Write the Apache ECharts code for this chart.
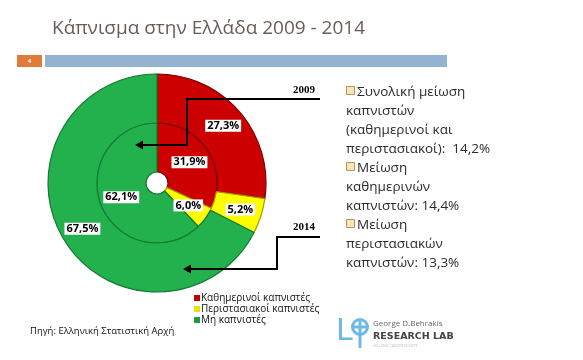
<!DOCTYPE html>
<html><head><meta charset="utf-8">
<script src="https://cdn.jsdelivr.net/npm/echarts@6/dist/echarts.min.js"></script>
<style>html,body{margin:0;padding:0;background:#fff}#c{width:583px;height:360px}</style>
</head><body><div id="c"></div>
<script>
const categories = ['Καθημερινοί καπνιστές', 'Περιστασιακοί καπνιστές', 'Μη καπνιστές'];
const values2009 = [31.9, 6.0, 62.1];
const values2014 = [27.3, 5.2, 67.5];
const years = ['2009', '2014'];
const noteLines = [
  ['Συνολική μείωση', 'καπνιστών', '(καθημερινοί και', 'περιστασιακοί):  14,2%'],
  ['Μείωση', 'καθημερινών', 'καπνιστών: 14,4%'],
  ['Μείωση', 'περιστασιακών', 'καπνιστών: 13,3%']
];
const colors = ['#CC0000', '#FFFF00', '#22B14C'];
const borders = ['#7a0000', '#a89a00', '#137a33'];
const legendColors = ['#C00000', '#E6E600', '#1E9A48'];
const fmt = v => v.toFixed(1).replace('.', ',') + '%';

const chart = echarts.init(document.getElementById('c'));
const mk = vals => vals.map((v, i) => ({ name: categories[i], value: v, itemStyle: { color: colors[i], borderColor: borders[i], borderWidth: 1.2 } }));
const label = {
  show: true, position: 'inside', formatter: p => fmt(p.value),
  fontFamily: 'Open Sans', fontWeight: 'bold', fontSize: 11, color: '#000',
  backgroundColor: '#fff', padding: [1, 2, 0, 2]
};

const graphics = [];
let y = 92;
noteLines.forEach(group => {
  group.forEach((ln, i) => {
    if (i === 0) {
      graphics.push({ type: 'rect', shape: { x: 346.5, y: y - 5.5, width: 8, height: 8 }, style: { fill: '#f3e6c0', stroke: '#b8944a', lineWidth: 1 } });
    }
    graphics.push({ type: 'text', x: i === 0 ? 357 : 346, y: y, style: { text: ln, font: '13.5px "Open Sans"', fill: '#2b2b2b', textVerticalAlign: 'middle' } });
    y += 19;
  });
});

function arrow(pts) {
  const last = pts[pts.length - 1];
  return [
    { type: 'polyline', shape: { points: pts.slice(0, -1).concat([[last[0] + 5, last[1]]]) }, style: { stroke: '#000', lineWidth: 2, fill: null }, z: 100 },
    { type: 'polygon', shape: { points: [[last[0], last[1]], [last[0] + 8, last[1] - 4.5], [last[0] + 8, last[1] + 4.5]] }, style: { fill: '#000' }, z: 100 }
  ];
}

graphics.push(
  { type: 'rect', shape: { x: 17, y: 55, width: 25, height: 12 }, style: { fill: '#E07B39' } },
  { type: 'text', x: 29.5, y: 61, style: { text: '4', font: 'bold 6px "Open Sans"', fill: '#fff', textAlign: 'center', textVerticalAlign: 'middle' } },
  { type: 'rect', shape: { x: 45, y: 55, width: 402, height: 12 }, style: { fill: '#93B3D1' } },
  { type: 'text', x: 293, y: 90, style: { text: years[0], font: 'bold 11px "Liberation Serif"', fill: '#000', textVerticalAlign: 'middle' }, z: 100 },
  { type: 'text', x: 293, y: 227, style: { text: years[1], font: 'bold 11px "Liberation Serif"', fill: '#000', textVerticalAlign: 'middle' }, z: 100 },
  ...arrow([[320, 99], [187, 99], [187, 145], [135, 145]]),
  ...arrow([[320, 237], [277, 237], [277, 269], [183, 269]]),
  { type: 'text', x: 30, y: 331, style: { text: 'Πηγή: Ελληνική Στατιστική Αρχή', font: '9.5px "Open Sans"', fill: '#111', textVerticalAlign: 'middle' } },
  // logo
  { type: 'text', x: 336, y: 332, style: { text: 'L', font: '30px "DejaVu Sans"', fill: '#6CB8E6', textVerticalAlign: 'middle' } },
  { type: 'circle', shape: { cx: 360, cy: 327, r: 7.5 }, style: { fill: null, stroke: '#6CB8E6', lineWidth: 3 } },
  { type: 'line', shape: { x1: 360, y1: 321, x2: 360, y2: 348 }, style: { stroke: '#6CB8E6', lineWidth: 3 } },
  { type: 'line', shape: { x1: 354, y1: 327, x2: 366, y2: 327 }, style: { stroke: '#6CB8E6', lineWidth: 3 } },
  { type: 'text', x: 373, y: 324, style: { text: 'George D.Behrakis', font: '8px "Open Sans"', fill: '#666', textVerticalAlign: 'middle' } },
  { type: 'text', x: 373, y: 337, style: { text: 'RESEARCH LAB', font: 'bold 9.5px "DejaVu Sans"', fill: '#444', textVerticalAlign: 'middle' } },
  { type: 'text', x: 373, y: 346, style: { text: 'HELLENIC CANCER SOCIETY', font: '3.5px "Open Sans"', fill: '#bbb', textVerticalAlign: 'middle' } }
);

chart.setOption({
  animation: false,
  title: { text: 'Κάπνισμα στην Ελλάδα 2009 - 2014', left: 47, top: 14, textStyle: { fontFamily: 'Open Sans', fontWeight: 'normal', fontSize: 19, color: '#6B5A55' } },
  legend: {
    orient: 'vertical', left: 189, top: 287, itemWidth: 6, itemHeight: 6, itemGap: -1,
    icon: 'rect', data: categories.map((c, i) => ({ name: c, itemStyle: { color: legendColors[i], borderWidth: 0 } })),
    itemStyle: { borderWidth: 0 },
    textStyle: { fontFamily: 'Open Sans', fontSize: 10, lineHeight: 12, color: '#111', padding: [0, 0, 0, -4] }
  },
  series: [
    { name: years[0], type: 'pie', center: [157, 183], radius: [11, 60], startAngle: 90, clockwise: true, data: mk(values2009), label: label, labelLine: { show: false } },
    { name: years[1], type: 'pie', center: [157, 183], radius: [60, 109], startAngle: 90, clockwise: true, data: mk(values2014), label: label, labelLine: { show: false } }
  ],
  graphic: graphics
});
</script></body></html>
